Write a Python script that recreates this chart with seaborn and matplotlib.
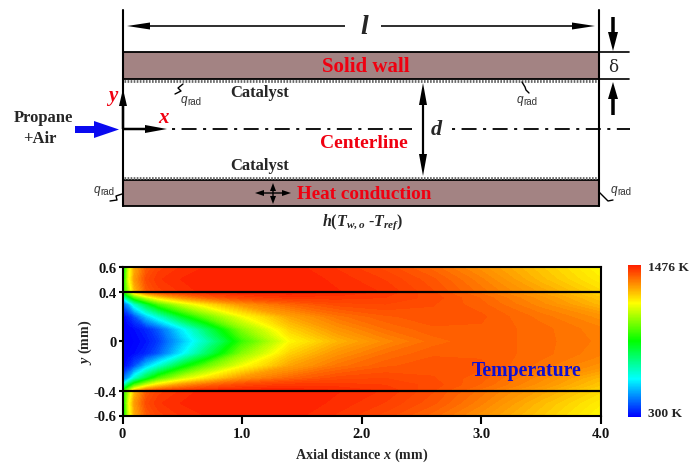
"""
Channel schematic above a temperature field of the catalytic wall case
"""
import matplotlib
matplotlib.use('Agg')
import matplotlib.pyplot as plt
import numpy as np
import seaborn as sns
from matplotlib.colors import LinearSegmentedColormap
from matplotlib.patches import FancyArrow, Rectangle

X_MM = [0, 0.05, 0.1, 0.2, 0.3, 0.5, 0.7, 1.0, 1.4, 1.8, 2.2, 2.6, 3.0, 3.5, 4.0]
Y_MM = [0, 0.1, 0.2, 0.3, 0.35, 0.4, 0.5, 0.6]

# temperature in K along x, one list per y level (field is symmetric about y=0)
T_Y000 = [300, 300, 300, 324, 371, 523, 676, 947, 1182, 1276, 1335, 1376, 1394, 1376, 1353]
T_Y010 = [300, 300, 312, 347, 406, 582, 770, 1041, 1241, 1323, 1370, 1394, 1394, 1376, 1347]
T_Y020 = [300, 335, 394, 535, 641, 853, 1006, 1170, 1300, 1364, 1394, 1405, 1400, 1364, 1323]
T_Y030 = [418, 500, 653, 829, 970, 1123, 1217, 1323, 1382, 1417, 1423, 1411, 1388, 1335, 1270]
T_Y035 = [594, 794, 947, 1100, 1206, 1311, 1370, 1417, 1441, 1441, 1435, 1417, 1382, 1323, 1253]
T_Y040 = [888, 1076, 1264, 1394, 1429, 1452, 1470, 1476, 1476, 1464, 1447, 1411, 1364, 1300, 1229]
T_Y050 = [829, 1147, 1311, 1417, 1447, 1464, 1476, 1476, 1476, 1458, 1435, 1400, 1347, 1270, 1200]
T_Y060 = [794, 1123, 1288, 1394, 1429, 1452, 1464, 1470, 1470, 1447, 1417, 1376, 1323, 1253, 1182]

X_TICKS = [0, 1, 2, 3, 4]
X_LABELS = ['0', '1.0', '2.0', '3.0', '4.0']
Y_TICKS = [-0.6, -0.4, 0, 0.4, 0.6]
Y_LABELS = ['-0.6', '-0.4', '0', '0.4', '0.6']
T_MIN = 300
T_MAX = 1476

W, H = 690, 464
SERIF = 'Liberation Serif'
WALL = '#a38383'
RED = '#f00010'
CENTER_DASH = (11.9, (8.3, 3.6, 1.7, 3.6))


def arrow(ov, start, end, width, head_width, head_length, color='black'):
    ov.add_patch(FancyArrow(start[0], start[1], end[0] - start[0], end[1] - start[1],
                            width=width, head_width=head_width, head_length=head_length,
                            length_includes_head=True, color=color, lw=0))


def qrad(ov, x, y, squiggle):
    ov.text(x, y, 'q', family='Liberation Sans', style='italic', weight='normal',
            fontsize=8.5, color='#333333', ha='right', va='center')
    ov.text(x, y + 2, 'rad', family='Liberation Sans', weight='normal', fontsize=7,
            color='#333333', ha='left', va='center')
    ov.plot(*zip(*squiggle), color='black', lw=1)


if __name__ == '__main__':
    sns.set_theme(style='ticks')
    plt.rcParams['font.family'] = SERIF
    plt.rcParams['font.weight'] = 'bold'
    plt.rcParams['mathtext.fontset'] = 'custom'
    plt.rcParams['mathtext.rm'] = 'Liberation Serif:bold'
    plt.rcParams['mathtext.it'] = 'Liberation Serif:italic:bold'
    plt.rcParams['mathtext.bf'] = 'Liberation Serif:bold'

    cmap = LinearSegmentedColormap.from_list(
        'field', ['#0000ff', '#00ffff', '#00ff00', '#ffff00', '#ff2000'], N=256)

    fig = plt.figure(figsize=(W / 100, H / 100), dpi=100, facecolor='white')

    # temperature field
    ax = fig.add_axes([122.5 / W, 1 - 416.5 / H, 478.5 / W, 148.5 / H])
    upper = np.array([T_Y000, T_Y010, T_Y020, T_Y030, T_Y035, T_Y040, T_Y050, T_Y060])
    field = np.vstack([upper[:0:-1], upper])
    y_all = np.concatenate([-np.array(Y_MM[:0:-1]), Y_MM])
    ax.contourf(X_MM, y_all, field, levels=np.linspace(T_MIN, T_MAX, 90), cmap=cmap,
                extend='both')
    for level in [0.4, -0.4]:
        ax.axhline(level, color='black', lw=1.6)
    ax.set_xlim(0, 4)
    ax.set_ylim(-0.6, 0.6)
    ax.set_xticks(X_TICKS, X_LABELS, fontsize=10.5)
    ax.set_yticks(Y_TICKS, Y_LABELS, fontsize=10.5)
    ax.tick_params(axis='x', length=5.5, width=1.5, pad=3, color='black', labelcolor='#111111')
    ax.tick_params(axis='y', length=3, width=1.5, pad=1.5, color='black', labelcolor='#111111')
    for spine in ax.spines.values():
        spine.set_linewidth(1.5)
        spine.set_color('black')
    ax.set_xlabel(r'Axial distance $x$ (mm)', fontsize=10.2, weight='bold', labelpad=4)
    ax.set_ylabel(r'$y$ (mm)', fontsize=10.2, weight='bold', labelpad=-0.5)
    ax.text(3.38, -0.23, 'Temperature', color='#1010d0', fontsize=14.2, ha='center', va='center')

    # colour scale
    cax = fig.add_axes([628 / W, 1 - 418 / H, 13 / W, 152 / H])
    sns.heatmap(np.linspace(T_MAX, T_MIN, 256).reshape(-1, 1), ax=cax, cmap=cmap,
                vmin=T_MIN, vmax=T_MAX, cbar=False, xticklabels=False, yticklabels=False)

    # schematic, in picture pixels
    ov = fig.add_axes([0, 0, 1, 1], facecolor='none')
    ov.set_xlim(0, W)
    ov.set_ylim(H, 0)
    ov.axis('off')

    for top, bottom in [(53, 80), (181, 207)]:
        ov.add_patch(Rectangle((123, top), 476, bottom - top, facecolor=WALL,
                               edgecolor='black', lw=1.3))
    for level in [82, 179]:
        ov.plot([124, 598], [level, level], color='#666666', lw=2, ls=(0, (0.6, 0.5)))
    for xpos in [123, 599]:
        ov.plot([xpos, xpos], [11, 207], color='black', lw=1.5)
    for level in [53, 80]:
        ov.plot([599, 629], [level, level], color='black', lw=1.2)
    # centerline stops either side of the d label
    for xa, xb in [(171.5, 412), (451.5, 630)]:
        ov.plot([xa, xb], [130, 130], color='black', lw=1.3, ls=CENTER_DASH)

    arrow(ov, (345, 27), (127, 27), 1.6, 7, 23)
    arrow(ov, (381, 27), (595, 27), 1.6, 7, 23)
    arrow(ov, (423, 130), (423, 84), 2.2, 8, 22)
    arrow(ov, (423, 130), (423, 177), 2.2, 8, 22)
    arrow(ov, (613, 18), (613, 52), 3.5, 10, 19)
    arrow(ov, (613, 116), (613, 83), 3.5, 10, 17)
    arrow(ov, (123, 130), (123, 90), 2.5, 8, 17)
    arrow(ov, (123, 130), (167, 130), 2.5, 8, 22)
    arrow(ov, (273, 194), (291, 194), 1.4, 6, 9)
    arrow(ov, (273, 194), (255, 194), 1.4, 6, 9)
    arrow(ov, (273, 194), (273, 184), 1.4, 6, 8)
    arrow(ov, (273, 194), (273, 205), 1.4, 6, 8)
    arrow(ov, (75, 130.5), (119, 130.5), 7, 17, 25, color='#0a0af0')

    ov.text(364, 27, 'l', style='italic', fontsize=20, ha='center', va='center')
    ov.text(436, 130, 'd', style='italic', fontsize=16, ha='center', va='center')
    ov.text(613, 67, 'δ', family='DejaVu Serif', weight='normal', fontsize=12,
            ha='center', va='center')
    ov.text(43, 118.5, 'Propane', fontsize=12, ha='center', va='center')
    ov.text(40, 139.5, '+Air', fontsize=12, ha='center', va='center')
    ov.text(260, 93, 'Catalyst', fontsize=12, ha='center', va='center')
    ov.text(260, 166, 'Catalyst', fontsize=12, ha='center', va='center')
    ov.text(113, 96, 'y', style='italic', color=RED, fontsize=15, ha='center', va='center')
    ov.text(163, 118, 'x', style='italic', color=RED, fontsize=15, ha='center', va='center')
    ov.text(366, 67.5, 'Solid wall', color=RED, fontsize=15, ha='center', va='center')
    ov.text(364, 143.5, 'Centerline', color=RED, fontsize=14, ha='center', va='center')
    ov.text(364, 195, 'Heat conduction', color=RED, fontsize=13.8, ha='center', va='center')
    ov.text(362.5, 222, r'$h(T_{w,o}$ -$T_{ref})$', fontsize=11.5, ha='center', va='center')

    qrad(ov, 187, 100, [(183, 85), (178, 89), (181, 92), (175, 95)])
    qrad(ov, 523, 100, [(522, 83), (525, 88), (526, 91), (529, 94)])
    qrad(ov, 100, 190, [(122, 195), (116, 197), (117, 201), (110, 202)])
    qrad(ov, 617, 190, [(599, 193), (604, 198), (608, 202), (613, 201)])

    ov.text(648, 268, '1476 K', fontsize=9.7, ha='left', va='center')
    ov.text(648, 414, '300 K', fontsize=9.7, ha='left', va='center')

    fig.savefig('out.png', dpi=100)
